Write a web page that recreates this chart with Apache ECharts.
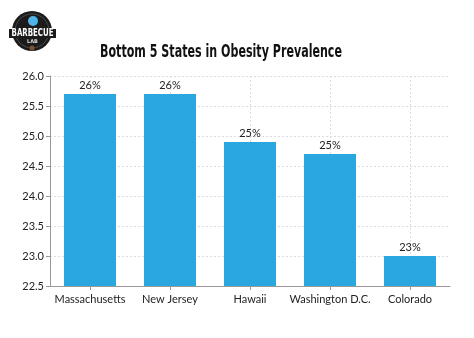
<!DOCTYPE html>
<html>
<head>
<meta charset="utf-8">
<script src="https://cdn.jsdelivr.net/npm/echarts@6/dist/echarts.min.js"></script>
<style>
  html, body { margin: 0; padding: 0; background: #ffffff; }
  #chart { width: 474px; height: 338px; }
</style>
</head>
<body>
<div id="chart"></div>
<script>
// Obesity prevalence (%) for the five lowest-ranked states
const states = ['Massachusetts', 'New Jersey', 'Hawaii', 'Washington D.C.', 'Colorado'];
const prevalence = [25.7, 25.7, 24.9, 24.7, 23.0];
const yTicks = [22.5, 23.0, 23.5, 24.0, 24.5, 25.0, 25.5, 26.0];
const chartTitle = 'Bottom 5 States in Obesity Prevalence';

const chart = echarts.init(document.getElementById('chart'), null, { renderer: 'canvas' });

const gridLine = { show: true, lineStyle: { color: '#dcdcdc', type: [2, 2], width: 1 } };

chart.setOption({
  animation: false,
  backgroundColor: '#ffffff',
  graphic: [
    // Condensed headline: bold sans squeezed horizontally
    { type: 'text', x: 221, y: 52, scaleX: 0.6,
      style: { x: 0, y: 0, text: chartTitle, align: 'center', verticalAlign: 'middle',
        font: 'bold 18.5px "DejaVu Sans", sans-serif', fill: '#111111' } },
    // Badge logo in the top-left corner
    { type: 'circle', shape: { cx: 32, cy: 31, r: 20 }, style: { fill: '#1b1b1b' } },
    { type: 'circle', shape: { cx: 32, cy: 31, r: 17 }, style: { fill: 'none', stroke: '#555', lineWidth: 0.8 } },
    { type: 'circle', shape: { cx: 33, cy: 21, r: 5 }, style: { fill: '#4fb3e8' } },
    { type: 'rect', shape: { x: 9, y: 29, width: 47, height: 9 }, style: { fill: '#1b1b1b' } },
    { type: 'text', x: 32.5, y: 33.5, scaleX: 0.7,
      style: { x: 0, y: 0, text: 'BARBECUE', align: 'center', verticalAlign: 'middle',
        font: 'bold 10px "DejaVu Sans", sans-serif', fill: '#ffffff' } },
    { type: 'text', style: { x: 32.5, y: 42, text: 'LAB', align: 'center', verticalAlign: 'middle',
      font: 'bold 5px "DejaVu Sans", sans-serif', fill: '#dddddd' } },
    { type: 'circle', shape: { cx: 32, cy: 48, r: 2.5 }, style: { fill: '#7a5230' } }
  ],
  grid: { left: 50, right: 24, top: 76, bottom: 52 },
  xAxis: {
    type: 'category',
    data: states,
    boundaryGap: true,
    axisLine: { show: true, lineStyle: { color: '#999999' } },
    axisTick: { show: true, alignWithLabel: true, length: 4, lineStyle: { color: '#999999' } },
    axisLabel: { interval: 0, color: '#222222', fontFamily: 'Lato, sans-serif', fontSize: 11, margin: 8 },
    splitLine: Object.assign({ alignWithLabel: true, interval: 0 }, gridLine)
  },
  yAxis: {
    type: 'value',
    min: 22.5,
    max: 26.0,
    interval: 0.5,
    axisLine: { show: true, lineStyle: { color: '#999999' } },
    axisTick: { show: true, length: 4, lineStyle: { color: '#999999' } },
    axisLabel: {
      color: '#222222', fontFamily: 'Lato, sans-serif', fontSize: 11, margin: 6,
      formatter: v => yTicks.includes(+v.toFixed(1)) ? v.toFixed(1) : ''
    },
    splitLine: gridLine
  },
  series: [{
    type: 'bar',
    data: prevalence,
    barWidth: '65%',
    itemStyle: { color: '#29a8e0' },
    label: {
      show: true,
      position: 'top',
      distance: 3,
      color: '#222222',
      fontFamily: 'Lato, sans-serif',
      fontSize: 11,
      formatter: p => Math.round(p.value) + '%'
    }
  }]
});
</script>
</body>
</html>
